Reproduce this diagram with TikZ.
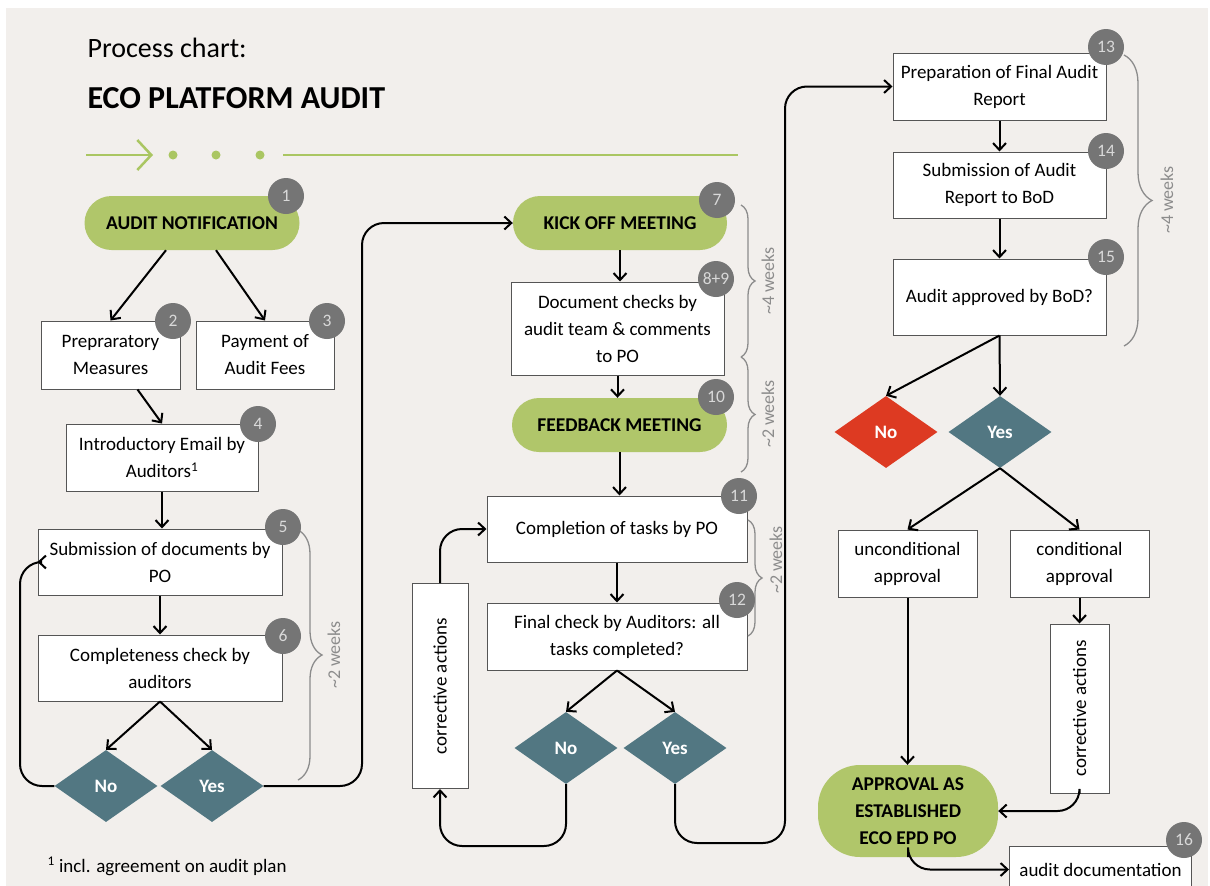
\documentclass[tikz,border=0pt]{standalone}
\usepackage{fontspec}
\setmainfont{Carlito}
\usetikzlibrary{shapes.geometric,arrows.meta,decorations.pathreplacing}
\definecolor{bgc}{RGB}{242,239,236}
\definecolor{grn}{RGB}{176,198,106}
\definecolor{hdrc}{RGB}{170,198,98}
\definecolor{tealc}{RGB}{82,119,130}
\definecolor{redc}{RGB}{221,58,34}
\definecolor{badgec}{RGB}{117,117,117}
\definecolor{bracec}{RGB}{140,140,140}
\definecolor{boxline}{RGB}{85,85,85}
\begin{document}
\begin{tikzpicture}[x=1pt,y=-1pt,
  body/.style={font=\fontsize{19}{27}\selectfont},
  box/.style={draw=boxline,line width=1pt,fill=white,align=center,inner sep=0pt,body},
  pill/.style={fill=grn,rounded corners=27pt,minimum height=54pt,inner sep=0pt,align=center,font=\bfseries\fontsize{19.5}{26}\selectfont},
  dia/.style={diamond,fill=tealc,minimum width=103pt,minimum height=72pt,inner sep=0pt,text=white,font=\bfseries\fontsize{19}{22}\selectfont},
  badge/.style={circle,fill=badgec,minimum size=36pt,inner sep=0pt,text=white!85!black,font=\fontsize{17.5}{20}\selectfont},
  conn/.style={line width=2pt,rounded corners=22pt,-{Straight Barb[length=7pt,width=13pt,line width=2pt]}},
  brc/.style={draw=bracec,line width=1.3pt,decorate,decoration={brace,amplitude=#1}},
  brtext/.style={text=bracec,rotate=90,font=\fontsize{18}{20}\selectfont},
]
\useasboundingbox (0,0) rectangle (1210,886);
\fill[white] (0,0) rectangle (1210,886);
\fill[bgc] (6,8) rectangle (1208,886);

% header
\node[anchor=base west,font=\fontsize{28}{32}\selectfont] (ttl1) at (84,57) {Process chart:};
\node[anchor=base west,font=\bfseries\fontsize{32}{36}\selectfont] (ttl2) at (84,108) {ECO PLATFORM AUDIT};
\draw[hdrc,line width=2.5pt,-{Straight Barb[length=14pt,width=30pt,line width=2.5pt]}] (86,155) -- (153,155);
\fill[hdrc] (173,155) circle (4.5pt) (216,155) circle (4.5pt) (260,155) circle (4.5pt);
\draw[hdrc,line width=2.5pt] (283,155) -- (738,155);

% column 1
\node[pill,minimum width=215pt] (an) at (192,223) {AUDIT NOTIFICATION};
\node[box,minimum width=139pt,minimum height=68pt] (b2) at (110.5,355) {Prepraratory\\Measures};
\node[box,minimum width=138pt,minimum height=68pt] (b3) at (265,355) {Payment of\\Audit Fees};
\node[box,minimum width=192pt,minimum height=67pt] (b4) at (162,457.5) {Introductory Email by\\Auditors\textsuperscript{1}};
\node[box,minimum width=244pt,minimum height=66pt] (b5) at (160,562) {Submission of documents by\\PO};
\node[box,minimum width=244pt,minimum height=66pt] (b6) at (160,668) {Completeness check by\\auditors};
\node[dia] (no1) at (106,786) {No};
\node[dia] (yes1) at (212,786) {Yes};

% column 2
\node[pill,minimum width=214pt] (ko) at (620,223) {KICK OFF MEETING};
\node[box,minimum width=213pt,minimum height=93pt] (b8) at (617.5,328.5) {Document checks by\\audit team \& comments\\to PO};
\node[pill,minimum width=215pt] (fb) at (619.5,425) {FEEDBACK MEETING};
\node[box,minimum width=260pt,minimum height=66pt] (b11) at (617,529) {Completion of tasks by PO};
\node[box,minimum width=260pt,minimum height=67pt] (b12) at (617,636.5) {Final check by Auditors: all\\tasks completed?};
\node[box,minimum width=56pt,minimum height=205pt] (c1) at (440,686) {\rotatebox{90}{corrective actions}};
\node[dia] (no2) at (566,748) {No};
\node[dia] (yes2) at (675,748) {Yes};

% column 3
\node[box,minimum width=213pt,minimum height=67pt] (b13) at (999.5,86.5) {Preparation of Final Audit\\Report};
\node[box,minimum width=213pt,minimum height=66pt] (b14) at (999.5,185) {Submission of Audit\\Report to BoD};
\node[box,minimum width=213pt,minimum height=76pt] (b15) at (999.5,297) {Audit approved by BoD?};
\node[dia,fill=redc] (no3) at (886,432) {No};
\node[dia] (yes3) at (1000,432) {Yes};
\node[box,minimum width=139pt,minimum height=67pt] (unc) at (907.5,563.5) {unconditional\\approval};
\node[box,minimum width=139pt,minimum height=67pt] (cond) at (1079.5,563.5) {conditional\\approval};
\node[box,minimum width=59pt,minimum height=169pt] (c2) at (1079.5,708.5) {\rotatebox{90}{corrective actions}};
\node[pill,minimum width=180pt,minimum height=92pt,rounded corners=42pt,font=\bfseries\fontsize{19.5}{27}\selectfont] (ap) at (908,811) {APPROVAL AS\\ESTABLISHED\\ECO EPD PO};
\node[box,minimum width=182pt,minimum height=46pt,anchor=north west] (ad) at (1009,846) {audit documentation};

% connectors column 1
\draw[conn] ([xshift=-26pt]an.south) -- (b2.north);
\draw[conn] ([xshift=24pt]an.south) -- (b3.north);
\draw[conn] ([xshift=27pt]b2.south) -- (b4.north);
\draw[conn] (b4.south) -- (b4.south |- b5.north);
\draw[conn] (b5.south) -- (b6.north);
\draw[conn] (b6.south) -- (no1.north);
\draw[conn] (b6.south) -- (yes1.north);
\draw[conn] (no1.west) -- (20,786) |- (b5.west);
\draw[conn] (yes1.east) -- (362,786) |- (ko.west);

% connectors column 2
\draw[conn] (ko.south) -- (ko.south |- b8.north);
\draw[conn] (b8.south) -- (b8.south |- fb.north);
\draw[conn] (fb.south) -- (fb.south |- b11.north);
\draw[conn] (b11.south) -- (b12.north);
\draw[conn] (b12.south) -- (no2.north);
\draw[conn] (b12.south) -- (yes2.north);
\draw[conn] (no2.south) |- (440,846) -- (c1.south);
\draw[conn] (c1.north) |- (b11.west);
\draw[conn] (yes2.south) |- (785,843) |- (b13.west);

% connectors column 3
\draw[conn] (b13.south) -- (b14.north);
\draw[conn] (b14.south) -- (b15.north);
\draw[conn] (b15.south) -- (no3.north);
\draw[conn] (b15.south) -- (yes3.north);
\draw[conn] (yes3.south) -- (unc.north);
\draw[conn] (yes3.south) -- (cond.north);
\draw[conn] (unc.south) -- (unc.south |- ap.north);
\draw[conn] (cond.south) -- (c2.north);
\draw[conn] (c2.south) |- (ap.east);
\draw[conn] (ap.south) |- (ad.west);

% braces
\draw[brc=24pt] (298,530) -- (298,780);
\node[brtext] (w1) at (334,655) {\textasciitilde2 weeks};
\draw[brc=14pt] (741,205) -- (741,357);
\node[brtext] (w2) at (768,281) {\textasciitilde4 weeks};
\draw[brc=14pt] (741,357) -- (741,472);
\node[brtext] (w3) at (768,414) {\textasciitilde2 weeks};
\draw[brc=14pt] (748,520) -- (748,636);
\node[brtext] (w4) at (776,560) {\textasciitilde2 weeks};
\draw[brc=28pt] (1124,55) -- (1124,346);
\node[brtext] (w5) at (1167,200) {\textasciitilde4 weeks};

% badges
\node[badge] (n1) at (286,196) {1};
\node[badge] (n2) at (173,321) {2};
\node[badge] (n3) at (327,321) {3};
\node[badge] (n4) at (258,424) {4};
\node[badge] (n5) at (283,527) {5};
\node[badge] (n6) at (283,636) {6};
\node[badge] (n7) at (717,200) {7};
\node[badge] (n8) at (716,279) {8+9};
\node[badge] (n10) at (716,397) {10};
\node[badge] (n11) at (739,496) {11};
\node[badge] (n12) at (737,600) {12};
\node[badge] (n13) at (1106,47) {13};
\node[badge] (n14) at (1106,151) {14};
\node[badge] (n15) at (1106,257) {15};
\node[badge] (n16) at (1184,840) {16};

% footnote
\node[anchor=base west,body] (fn) at (44,872) {\textsuperscript{1} incl. agreement on audit plan};
\end{tikzpicture}
\end{document}
